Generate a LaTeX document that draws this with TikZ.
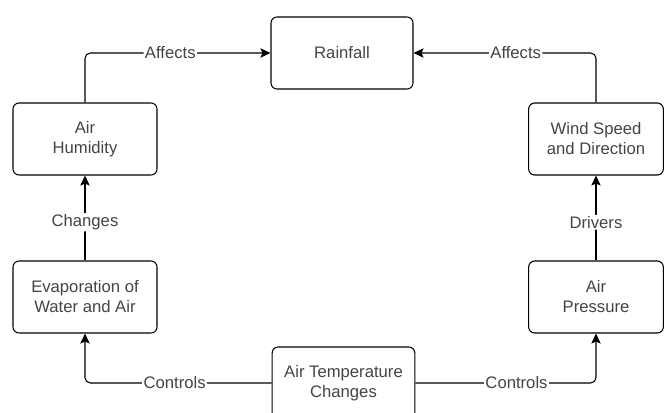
\documentclass[tikz,border=0pt]{standalone}
\usepackage{fontspec}
\setmainfont{Liberation Sans}
\usepackage{xcolor}
\usetikzlibrary{arrows.meta}
\definecolor{txtgray}{HTML}{444444}
\tikzset{>={Stealth[length=7.5pt,width=7pt,inset=1.5pt]}}
\tikzset{
  factor/.style={draw, thick, rounded corners=4.5pt, align=center, text=txtgray,
    minimum width=108pt, minimum height=54pt, font=\fontsize{12.5}{15}\selectfont},
  flow/.style={->, thick, rounded corners=4pt},
  lbl/.style={fill=white, inner sep=1pt, text=txtgray, font=\fontsize{12.5}{15}\selectfont}
}

\begin{document}
\begin{tikzpicture}[x=0.75pt, y=-0.75pt]
        \useasboundingbox (0,0) rectangle (665,413);
        % Boxes
        \node[factor, minimum width=106.5pt] (rain) at (342,53) {Rainfall};
        \node[factor] (humid) at (85,139) {Air\\Humidity};
        \node[factor] (evap) at (85,297) {Evaporation of\\Water and Air};
        \node[factor, minimum width=107pt] (temp) at (343.5,383) {Air Temperature\\Changes};
        \node[factor, minimum width=101pt] (wind) at (596,139) {Wind Speed\\and Direction};
        \node[factor, minimum width=101pt] (press) at (596,297) {Air\\Pressure};

        % Links
        \draw[flow] (humid) |- node[lbl, pos=0.73] {Affects} (rain);
        \draw[flow] (wind) |- node[lbl, pos=0.72] {Affects} (rain);
        \draw[flow] (evap) -- node[lbl, pos=0.45] {Changes} (humid);
        \draw[flow] (press) -- node[lbl, pos=0.45] {Drivers} (wind);
        \draw[flow] (temp) -| node[lbl, pos=0.26] {Controls} (evap);
        \draw[flow] (temp) -| node[lbl, pos=0.28] {Controls} (press);
      \end{tikzpicture}
\end{document}
